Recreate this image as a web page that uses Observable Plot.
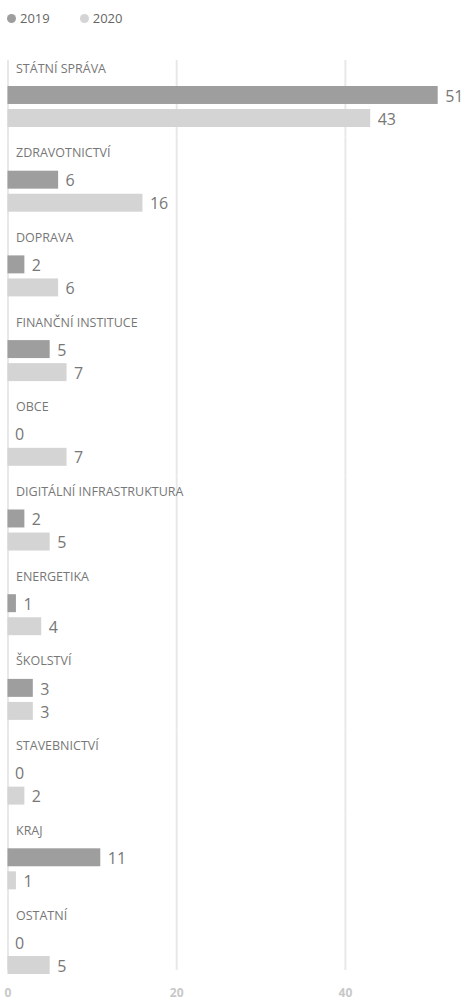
<!DOCTYPE html>
<html><head><meta charset="utf-8">
<script src="https://cdn.jsdelivr.net/npm/d3@7"></script>
<script src="https://cdn.jsdelivr.net/npm/@observablehq/plot@0.6"></script>
<style>
body{margin:0;background:#fff;font-family:"Open Sans",sans-serif;}
#legend{height:36px;display:flex;align-items:center;padding-left:7px;font-size:13px;color:#666;}
.item{display:flex;align-items:center;margin-right:30px}
.dot{width:9px;height:9px;border-radius:50%;margin-right:4px}
svg{display:block}
</style></head><body>
<div id="legend"></div><div id="chart"></div>
<script>
const categories = ["STÁTNÍ SPRÁVA","ZDRAVOTNICTVÍ","DOPRAVA","FINANČNÍ INSTITUCE","OBCE","DIGITÁLNÍ INFRASTRUKTURA","ENERGETIKA","ŠKOLSTVÍ","STAVEBNICTVÍ","KRAJ","OSTATNÍ"];
const series = ["2019","2020"];
const values2019 = [51,6,2,5,0,2,1,3,0,11,0];
const values2020 = [43,16,6,7,7,5,4,3,2,1,5];
const xTicks = [0,20,40];
const colors = ["#9e9e9e","#d4d4d4"];

// legend
const legend = document.getElementById("legend");
series.forEach((s,i)=>{
  const it = document.createElement("div"); it.className="item";
  const dot = document.createElement("span"); dot.className="dot"; dot.style.background=colors[i];
  const lab = document.createElement("span"); lab.textContent=s;
  it.appendChild(dot); it.appendChild(lab); legend.appendChild(it);
});

const rows = categories.flatMap((c,i)=>[
  {category:c, series:series[0], value:values2019[i]},
  {category:c, series:series[1], value:values2020[i]}
]);
const gridRows = categories.flatMap(c => xTicks.map(t => ({category:c, tick:t})));
const first = categories[0], last = categories[categories.length-1];
const gridStyle = {x:"tick", fy:"category", stroke:"#e8e8e8", strokeWidth:2};

const chart = Plot.plot({
  width:463, height:964,
  marginTop:16, marginBottom:16.3, marginLeft:7.5, marginRight:0,
  style:{fontFamily:"Open Sans", background:"white"},
  x:{domain:[0,54]},
  y:{domain:series, paddingInner:0.22, paddingOuter:0, insetTop:34, insetBottom:9.7, round:false, axis:null},
  fy:{domain:categories, padding:0, round:false, axis:null},
  color:{domain:series, range:colors},
  marks:[
    Plot.ruleX(gridRows.filter(d=>d.category!==first && d.category!==last), gridStyle),
    Plot.ruleX(gridRows.filter(d=>d.category===first), {...gridStyle, insetTop:8}),
    Plot.ruleX(gridRows.filter(d=>d.category===last), {...gridStyle, insetBottom:13.7}),
    Plot.barX(rows, {x:"value", y:"series", fy:"category", fill:"series"}),
    Plot.text(rows, {x:"value", y:"series", fy:"category", text:d=>String(d.value), dx:7, dy:1, textAnchor:"start", fill:"#777", fontSize:16}),
    Plot.text(categories, {fy:d=>d, text:d=>d, frameAnchor:"top-left", dx:8, dy:16, lineAnchor:"middle", fill:"#777", fontSize:12.5}),
    Plot.axisX({ticks:xTicks, tickSize:0, tickPadding:4, fill:"#c8c8c8", fontSize:12, fontWeight:"bold"})
  ]
});
document.getElementById("chart").appendChild(chart);
</script></body></html>
